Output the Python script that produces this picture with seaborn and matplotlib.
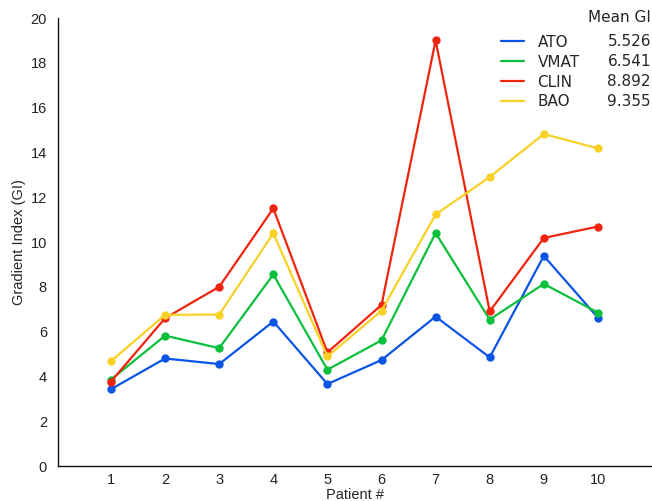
import matplotlib
matplotlib.use("Agg")
import matplotlib.pyplot as plt
from matplotlib.lines import Line2D
import seaborn as sns
import pandas as pd

patients = [1, 2, 3, 4, 5, 6, 7, 8, 9, 10]
ato = [3.43, 4.80, 4.55, 6.45, 3.66, 4.73, 6.67, 4.85, 9.38, 6.62]
vmat = [3.86, 5.82, 5.26, 8.55, 4.30, 5.61, 10.40, 6.54, 8.13, 6.85]
clin = [3.77, 6.60, 8.00, 11.50, 5.07, 7.19, 19.00, 6.90, 10.18, 10.69]
bao = [4.68, 6.75, 6.76, 10.39, 4.89, 6.93, 11.23, 12.90, 14.82, 14.18]
methods = ["ATO", "VMAT", "CLIN", "BAO"]
mean_gi = ["5.526", "6.541", "8.892", "9.355"]
colors = ["#0a55e6", "#0cbf3c", "#f0240e", "#f8d126"]
y_ticks = [0, 2, 4, 6, 8, 10, 12, 14, 16, 18, 20]

df = pd.DataFrame({
    "Patient": patients * 4,
    "GI": ato + vmat + clin + bao,
    "Method": [m for m in methods for _ in patients],
})

sns.set_style("white")
plt.rcParams["font.family"] = ["Liberation Sans", "DejaVu Sans"]

fig = plt.figure(figsize=(6.52, 5.01), dpi=100)
ax = fig.add_axes([58 / 652, 35 / 501, 594 / 652, 448 / 501])

sns.lineplot(data=df, x="Patient", y="GI", hue="Method", hue_order=methods,
             palette=colors, marker="o", markersize=6, markeredgewidth=0,
             linewidth=1.6, ax=ax, legend=False)

ax.set_xlim(0.02, 11.0)
ax.set_ylim(0, 20)
ax.set_xticks(patients)
ax.set_yticks(y_ticks)
ax.tick_params(axis="x", direction="in", length=6, width=0.8, pad=5,
               labelsize=10.5, colors="#222222")
ax.tick_params(axis="y", direction="out", length=5, width=0.8, pad=3,
               labelsize=10.5, colors="#222222")
for side in ["top", "right"]:
    ax.spines[side].set_visible(False)
for side in ["left", "bottom"]:
    ax.spines[side].set_color("#111111")
    ax.spines[side].set_linewidth(1.0)

ax.set_ylabel("Gradient Index (GI)", fontsize=10.5, labelpad=3)
ax.set_xlabel("Patient #", fontsize=10.5, labelpad=0.5)

# Legend with mean GI column
handles = [Line2D([], [], color=c, linewidth=1.6) for c in colors]
leg = fig.legend(handles, methods, loc="upper left",
                 bbox_to_anchor=(487 / 652, 1 - 21 / 501),
                 frameon=False, handlelength=1.5, handletextpad=0.9,
                 labelspacing=0.32,
                 prop={"family": "DejaVu Sans", "size": 11})
for i, v in enumerate(mean_gi):
    fig.text(651 / 652, 1 - (42 + i * 20) / 501, v, ha="right", va="center",
             family="DejaVu Sans", fontsize=11)
fig.text(651 / 652, 1 - 18 / 501, "Mean GI", ha="right", va="center",
         family="DejaVu Sans", fontsize=11)

fig.savefig("out.png", dpi=100)
